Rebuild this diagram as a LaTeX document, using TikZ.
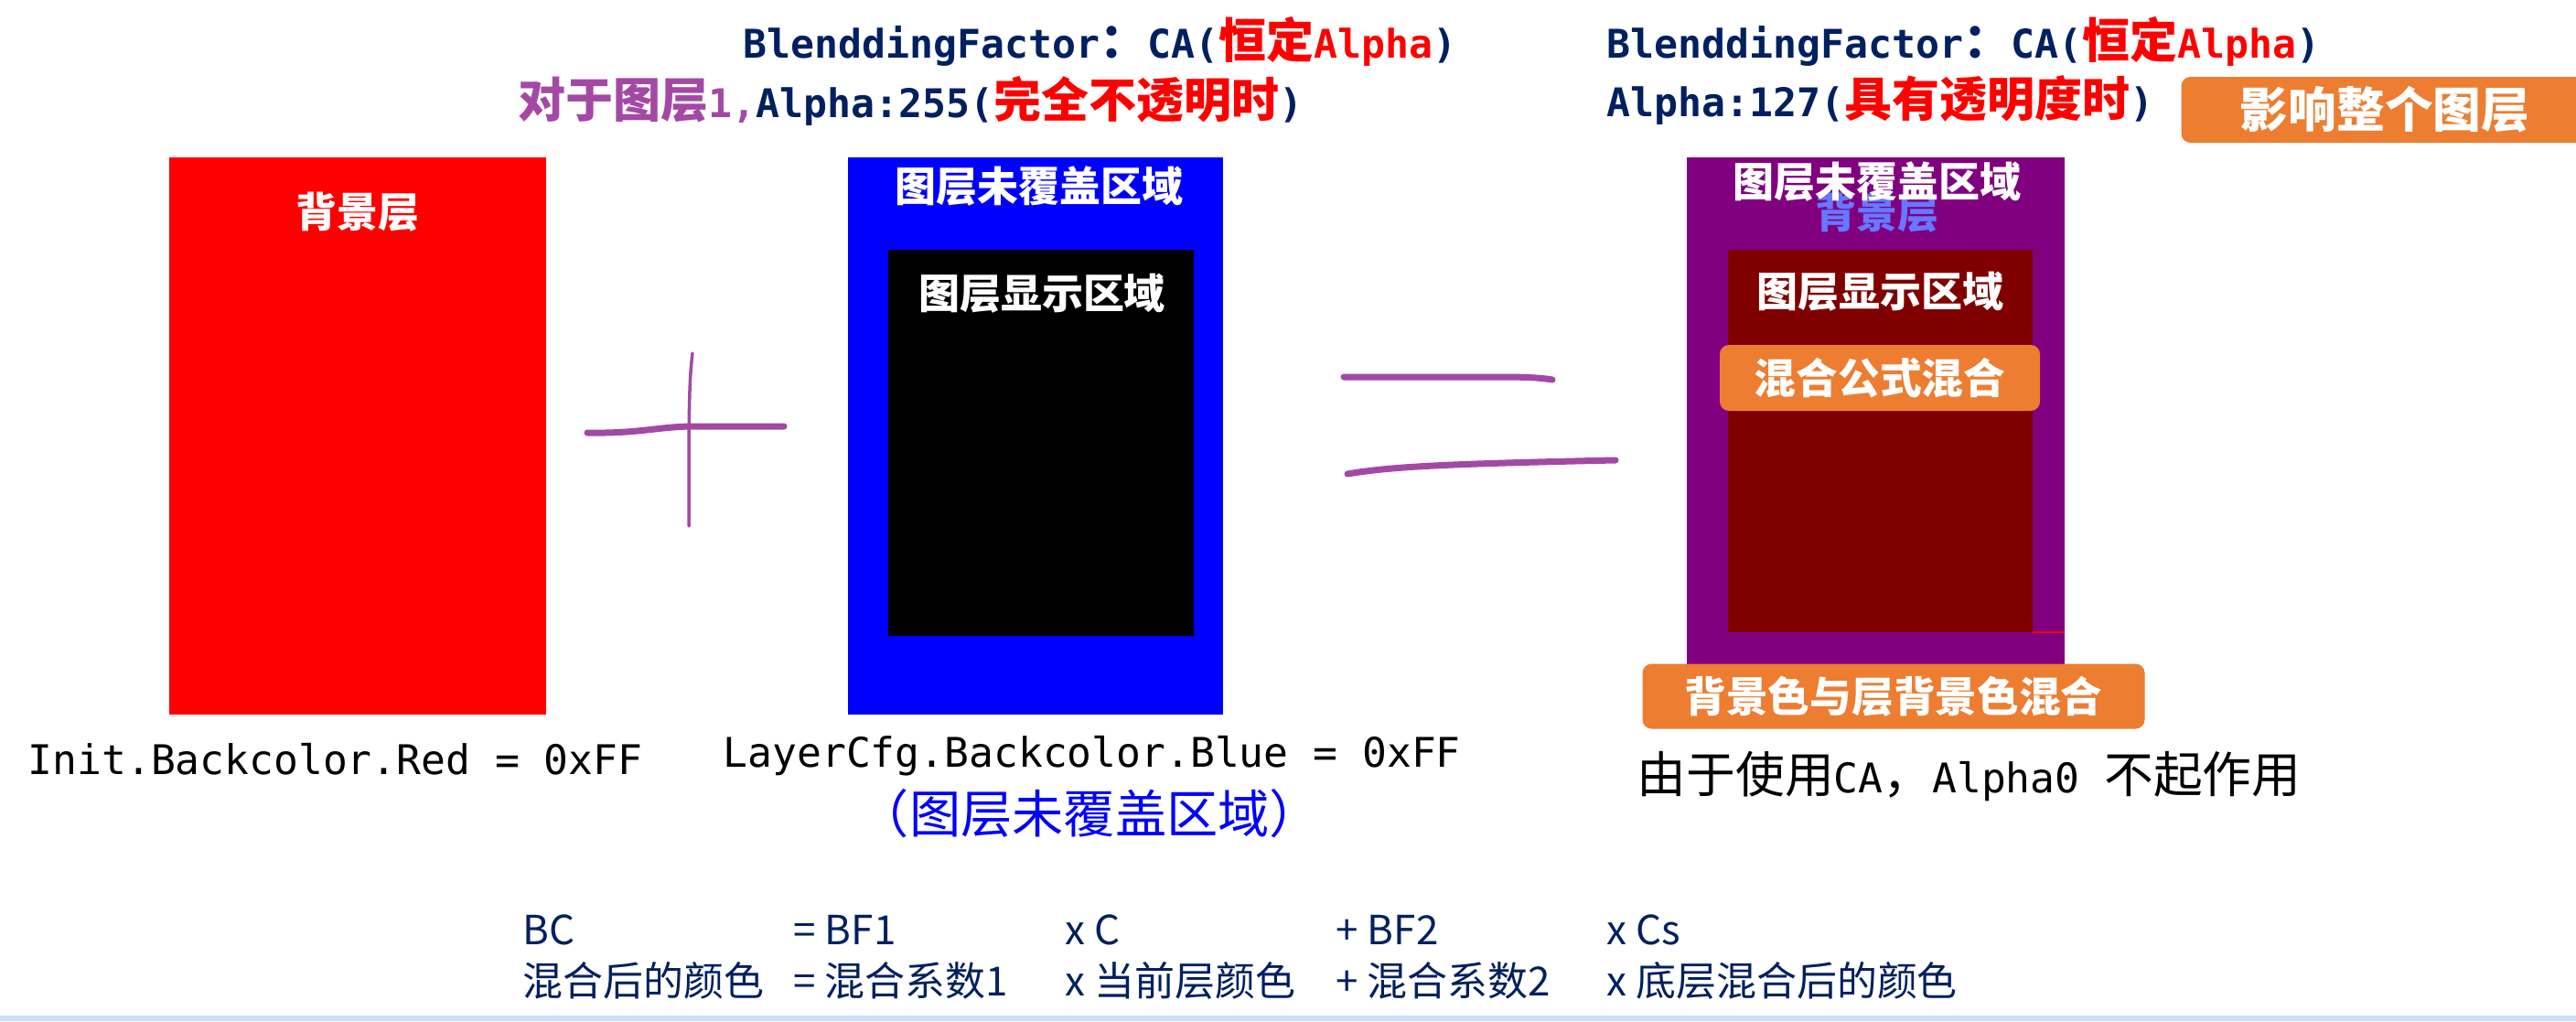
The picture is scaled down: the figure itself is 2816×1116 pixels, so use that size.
\documentclass[tikz,border=0pt]{standalone}
\usepackage{fontspec}
\setmainfont{Noto Sans CJK SC}
\newfontfamily\mono[Scale=0.83]{DejaVu Sans Mono}
\usetikzlibrary{positioning}
\definecolor{navy}{RGB}{0,32,96}
\definecolor{penc}{RGB}{163,73,164}
\definecolor{orng}{RGB}{237,125,49}
\definecolor{plum}{RGB}{128,0,128}
\definecolor{maroon}{RGB}{128,0,0}
\definecolor{paleblue}{RGB}{102,120,255}
\definecolor{barc}{RGB}{205,222,245}
\tikzset{
  panel/.style={rectangle,inner sep=0pt,outer sep=0pt,anchor=north west},
  inlbl/.style={text=white,inner sep=0pt,font=\fontsize{12.8}{14}\selectfont\bfseries},
  tag/.style={rectangle,rounded corners=1mm,fill=orng,text=white,inner sep=0pt,font=\fontsize{13}{15}\selectfont\bfseries},
  toptxt/.style={anchor=west,inner sep=0pt,text=navy,font=\fontsize{14.8}{17}\selectfont\bfseries},
  code/.style={anchor=west,inner sep=0pt,font=\fontsize{15.3}{17}\selectfont},
  fml/.style={anchor=west,inner sep=0pt,text=navy,font=\fontsize{12.5}{14}\selectfont},
  pen/.style={draw=penc,line width=0.7mm,line cap=round}
}

\begin{document}
\begin{tikzpicture}[x=0.1mm,y=-0.1mm]
\path[use as bounding box,fill=white] (0,0) rectangle (2816,1116);
% the three layers
\node[panel,fill=red,minimum width=41.2mm,minimum height=60.9mm] (bg) at (185,172) {};
\node[panel,fill=blue,minimum width=41.0mm,minimum height=60.9mm] (lyr) at (927,172) {};
\node[panel,fill=black,minimum width=33.4mm,minimum height=42.2mm] (lyrin) at (971,273) {};
\node[panel,fill=plum,minimum width=41.3mm,minimum height=60.9mm] (mix) at (1844,172) {};
\node[panel,fill=maroon,minimum width=33.3mm,minimum height=41.8mm] (mixin) at (1889,273) {};
\draw[red,line width=0.2mm] (mixin.south east) -- (mix.east |- mixin.south);
\node[inlbl] (bgtxt) at (391,232) {背景层};
\node[inlbl] (lyrtxt) at (1136,204) {图层未覆盖区域};
\node[inlbl] (lyrintxt) at (1139,321) {图层显示区域};
\node[inlbl,text=paleblue] (mixbg) at (2052,233) {背景层};
\node[inlbl] (mixtxt) at (2052,199) {图层未覆盖区域};
\node[inlbl] (mixintxt) at (2055,319) {图层显示区域};
% orange tags
\node[tag,minimum width=35mm,minimum height=7.2mm] (formula) at (2055,413) {混合公式混合};
\node[tag,minimum width=54.9mm,minimum height=7.1mm] (bgmix) at (2070,761) {背景色与层背景色混合};
\node[tag,minimum width=44.5mm,minimum height=7.2mm,font=\fontsize{15}{17}\selectfont\bfseries] (whole) at (2607,120) {影响整个图层};
% plus and equals, hand drawn
\draw[pen] (642,473) .. controls (700,474) and (720,466) .. (760,466) -- (857,466);
\draw[pen,line width=0.35mm] (757,386) .. controls (753,420) and (753,450) .. (753,575);
\draw[pen] (1469,412) -- (1640,412) .. controls (1670,412) and (1685,413) .. (1697,415);
\draw[pen] (1473,518) .. controls (1520,510) and (1580,507) .. (1766,503);
% header lines
\node[toptxt] (bf1) at (812,45) {{\mono BlenddingFactor}：{\mono CA(}\textcolor{red}{恒定{\mono Alpha}}{\mono )}};
\node[toptxt] (al1) at (566,110) {\textcolor{penc}{对于图层{\mono 1,}}{\mono Alpha:255(}\textcolor{red}{完全不透明时}{\mono )}};
\node[toptxt] (bf2) at (1756,45) {{\mono BlenddingFactor}：{\mono CA(}\textcolor{red}{恒定{\mono Alpha}}{\mono )}};
\node[toptxt] (al2) at (1756,110) {{\mono Alpha:127(}\textcolor{red}{具有透明度时}{\mono )}};
% captions
\node[code] (redcfg) at (30,830) {{\mono Init.Backcolor.Red = 0xFF}};
\node[code] (bluecfg) at (790,826) {{\mono LayerCfg.Backcolor.Blue = 0xFF}};
\node[code,anchor=center,text=blue,font=\fontsize{16}{18}\selectfont] (bluenote) at (1191,889) {（图层未覆盖区域）};
\node[code] (canote) at (1789,848) {由于使用{\mono CA}，{\mono Alpha0 }不起作用};
% blend formula
\foreach \c/\x/\a/\b in {1/571/BC/混合后的颜色,2/867/= BF1/= 混合系数1,3/1164/x C/x 当前层颜色,4/1460/+ BF2/+ 混合系数2,5/1756/x Cs/x 底层混合后的颜色}{
  \node[fml] (fa\c) at (\x,1016) {\a};
  \node[fml] (fb\c) at (\x,1072) {\b};
}
\fill[barc] (0,1110) rectangle (2816,1116);
\end{tikzpicture}
\end{document}
